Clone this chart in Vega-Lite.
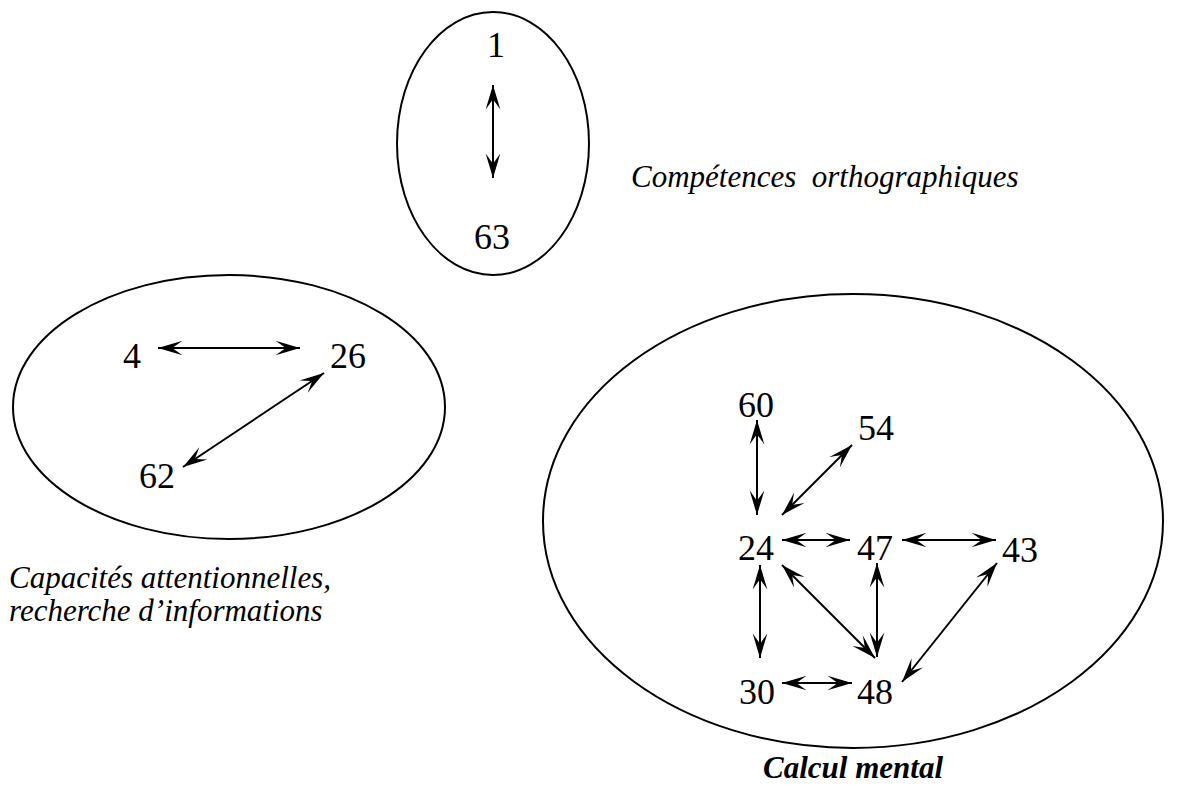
{
  "$schema": "https://vega.github.io/schema/vega-lite/v6.json",
  "width": 1190,
  "height": 789,
  "padding": 0,
  "autosize": {"type": "fit", "contains": "padding"},
  "background": "white",
  "config": {"view": {"stroke": null}},
  "datasets": {
    "ellipses": [
      {"group": "orth", "cx": 493, "cy": 143.5},
      {"group": "attn", "cx": 229, "cy": 407},
      {"group": "calc", "cx": 853, "cy": 521}
    ],
    "nodes": [
      {"id": "1", "x": 496, "y": 57},
      {"id": "63", "x": 492, "y": 249},
      {"id": "4", "x": 132, "y": 368},
      {"id": "26", "x": 348, "y": 368},
      {"id": "62", "x": 157, "y": 488},
      {"id": "60", "x": 756, "y": 417},
      {"id": "54", "x": 876, "y": 440},
      {"id": "24", "x": 756, "y": 560},
      {"id": "47", "x": 875, "y": 560},
      {"id": "43", "x": 1020, "y": 562},
      {"id": "30", "x": 757, "y": 704},
      {"id": "48", "x": 875, "y": 704}
    ],
    "links": [
      {"a": "1", "b": "63", "x": 493, "y": 85, "x2": 493, "y2": 178},
      {"a": "4", "b": "26", "x": 158, "y": 348, "x2": 300, "y2": 348},
      {"a": "62", "b": "26", "x": 183, "y": 467, "x2": 324, "y2": 373},
      {"a": "60", "b": "24", "x": 757, "y": 420, "x2": 757, "y2": 515},
      {"a": "54", "b": "24", "x": 852, "y": 445, "x2": 782, "y2": 515},
      {"a": "24", "b": "47", "x": 782, "y": 540, "x2": 850, "y2": 540},
      {"a": "47", "b": "43", "x": 902, "y": 540, "x2": 996, "y2": 540},
      {"a": "24", "b": "30", "x": 760, "y": 565, "x2": 760, "y2": 658},
      {"a": "24", "b": "48", "x": 782, "y": 565, "x2": 875, "y2": 658},
      {"a": "47", "b": "48", "x": 877, "y": 563, "x2": 877, "y2": 657},
      {"a": "43", "b": "48", "x": 997, "y": 563, "x2": 902, "y2": 682},
      {"a": "30", "b": "48", "x": 782, "y": 683, "x2": 852, "y2": 683}
    ],
    "captions": [
      {"label": "Compétences\u00a0 orthographiques", "x": 631, "y": 187},
      {"label": "Capacités attentionnelles,", "x": 9, "y": 588},
      {"label": "recherche d’informations", "x": 9, "y": 621}
    ],
    "groupTitles": [
      {"label": "Calcul mental", "x": 853, "y": 778}
    ]
  },
  "layer": [
    {
      "data": {"name": "ellipses"},
      "transform": [{"filter": "datum.group === 'orth'"}],
      "mark": {"type": "point", "filled": false, "stroke": "black", "strokeWidth": 2, "opacity": 1, "size": 69169,
        "shape": "M0.73,0 C0.73,0.5523 0.4032,1 0,1 C-0.4032,1 -0.73,0.5523 -0.73,0 C-0.73,-0.5523 -0.4032,-1 0,-1 C0.4032,-1 0.73,-0.5523 0.73,0 Z"},
      "encoding": {
        "x": {"field": "cx", "type": "quantitative", "scale": {"domain": [0, 1190], "nice": false, "zero": false}, "axis": null},
        "y": {"field": "cy", "type": "quantitative", "scale": {"domain": [0, 789], "nice": false, "zero": false, "reverse": true}, "axis": null}
      }
    },
    {
      "data": {"name": "ellipses"},
      "transform": [{"filter": "datum.group === 'attn'"}],
      "mark": {"type": "point", "filled": false, "stroke": "black", "strokeWidth": 2, "opacity": 1, "size": 186624,
        "shape": "M1,0 C1,0.3375 0.5523,0.611 0,0.611 C-0.5523,0.611 -1,0.3375 -1,0 C-1,-0.3375 -0.5523,-0.611 0,-0.611 C0.5523,-0.611 1,-0.3375 1,0 Z"},
      "encoding": {
        "x": {"field": "cx", "type": "quantitative", "scale": {"domain": [0, 1190], "nice": false, "zero": false}, "axis": null},
        "y": {"field": "cy", "type": "quantitative", "scale": {"domain": [0, 789], "nice": false, "zero": false, "reverse": true}, "axis": null}
      }
    },
    {
      "data": {"name": "ellipses"},
      "transform": [{"filter": "datum.group === 'calc'"}],
      "mark": {"type": "point", "filled": false, "stroke": "black", "strokeWidth": 2, "opacity": 1, "size": 384400,
        "shape": "M1,0 C1,0.4043 0.5523,0.732 0,0.732 C-0.5523,0.732 -1,0.4043 -1,0 C-1,-0.4043 -0.5523,-0.732 0,-0.732 C0.5523,-0.732 1,-0.4043 1,0 Z"},
      "encoding": {
        "x": {"field": "cx", "type": "quantitative", "scale": {"domain": [0, 1190], "nice": false, "zero": false}, "axis": null},
        "y": {"field": "cy", "type": "quantitative", "scale": {"domain": [0, 789], "nice": false, "zero": false, "reverse": true}, "axis": null}
      }
    },
    {
      "data": {"name": "links"},
      "mark": {"type": "rule", "color": "black", "strokeWidth": 2},
      "encoding": {
        "x": {"field": "x", "type": "quantitative", "scale": {"domain": [0, 1190], "nice": false, "zero": false}, "axis": null},
        "y": {"field": "y", "type": "quantitative", "scale": {"domain": [0, 789], "nice": false, "zero": false, "reverse": true}, "axis": null},
        "x2": {"field": "x2"},
        "y2": {"field": "y2"}
      }
    },
    {
      "data": {"name": "links"},
      "transform": [{"calculate": "atan2(datum.x2 - datum.x, datum.y - datum.y2) * 180 / PI", "as": "ang"}],
      "mark": {"type": "point", "shape": "M0,0 L-0.3,1 L0,0.58 L0.3,1 Z", "filled": true, "color": "black", "opacity": 1, "size": 2400, "strokeWidth": 0},
      "encoding": {
        "x": {"field": "x2", "type": "quantitative", "scale": {"domain": [0, 1190], "nice": false, "zero": false}, "axis": null},
        "y": {"field": "y2", "type": "quantitative", "scale": {"domain": [0, 789], "nice": false, "zero": false, "reverse": true}, "axis": null},
        "angle": {"field": "ang", "type": "quantitative", "scale": null}
      }
    },
    {
      "data": {"name": "links"},
      "transform": [{"calculate": "atan2(datum.x - datum.x2, datum.y2 - datum.y) * 180 / PI", "as": "ang"}],
      "mark": {"type": "point", "shape": "M0,0 L-0.3,1 L0,0.58 L0.3,1 Z", "filled": true, "color": "black", "opacity": 1, "size": 2400, "strokeWidth": 0},
      "encoding": {
        "x": {"field": "x", "type": "quantitative", "scale": {"domain": [0, 1190], "nice": false, "zero": false}, "axis": null},
        "y": {"field": "y", "type": "quantitative", "scale": {"domain": [0, 789], "nice": false, "zero": false, "reverse": true}, "axis": null},
        "angle": {"field": "ang", "type": "quantitative", "scale": null}
      }
    },
    {
      "data": {"name": "nodes"},
      "mark": {"type": "text", "font": "Liberation Serif", "fontSize": 36, "align": "center", "baseline": "alphabetic", "color": "black"},
      "encoding": {
        "x": {"field": "x", "type": "quantitative", "scale": {"domain": [0, 1190], "nice": false, "zero": false}, "axis": null},
        "y": {"field": "y", "type": "quantitative", "scale": {"domain": [0, 789], "nice": false, "zero": false, "reverse": true}, "axis": null},
        "text": {"field": "id", "type": "nominal"}
      }
    },
    {
      "data": {"name": "captions"},
      "mark": {"type": "text", "font": "Liberation Serif", "fontSize": 31, "fontStyle": "italic", "align": "left", "baseline": "alphabetic", "color": "black"},
      "encoding": {
        "x": {"field": "x", "type": "quantitative", "scale": {"domain": [0, 1190], "nice": false, "zero": false}, "axis": null},
        "y": {"field": "y", "type": "quantitative", "scale": {"domain": [0, 789], "nice": false, "zero": false, "reverse": true}, "axis": null},
        "text": {"field": "label", "type": "nominal"}
      }
    },
    {
      "data": {"name": "groupTitles"},
      "mark": {"type": "text", "font": "Liberation Serif", "fontSize": 31, "fontStyle": "italic", "fontWeight": "bold", "align": "center", "baseline": "alphabetic", "color": "black"},
      "encoding": {
        "x": {"field": "x", "type": "quantitative", "scale": {"domain": [0, 1190], "nice": false, "zero": false}, "axis": null},
        "y": {"field": "y", "type": "quantitative", "scale": {"domain": [0, 789], "nice": false, "zero": false, "reverse": true}, "axis": null},
        "text": {"field": "label", "type": "nominal"}
      }
    }
  ]
}
